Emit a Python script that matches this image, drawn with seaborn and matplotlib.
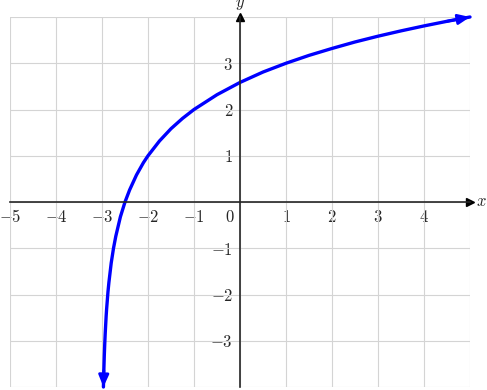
import numpy as np
import pandas as pd
import matplotlib
matplotlib.use("Agg")
import matplotlib.pyplot as plt
import seaborn as sns

# points (left end at the asymptote, right end at the arrow tip)
curve_x = [-2.969, -2.96, -2.95, -2.94, -2.93, -2.91, -2.9, -2.87, -2.85, -2.8, -2.75,
           -2.7, -2.6, -2.5, -2.4, -2.25, -2.1, -2.0, -1.75, -1.5, -1.25, -1.0,
           -0.5, 0.0, 0.5, 1.0, 1.5, 2.0, 2.5, 3.0, 3.5, 4.0, 4.5, 5.0]
curve_y = [-4.0, -3.64, -3.32, -3.06, -2.84, -2.47, -2.32, -1.94, -1.74, -1.32, -1.0,
           -0.74, -0.32, 0.0, 0.26, 0.585, 0.85, 1.0, 1.32, 1.585, 1.807, 2.0,
           2.32, 2.585, 2.81, 3.0, 3.17, 3.32, 3.46, 3.585, 3.70, 3.807, 3.907, 4.0]

x_ticks = [-5, -4, -3, -2, -1, 1, 2, 3, 4]
y_ticks = [-3, -2, -1, 1, 2, 3]
x_range = (-5, 5)
y_range = (-4, 4)

sns.set_style("white")
plt.rcParams["mathtext.fontset"] = "cm"
plt.rcParams["font.family"] = ["DejaVu Serif"]

fig = plt.figure(figsize=(4.87, 3.90), dpi=100)
ax = fig.add_axes([10 / 487, 3 / 390, 460 / 487, 370 / 390])
ax.set_xlim(*x_range)
ax.set_ylim(*y_range)

# grid on every integer (minor ticks, kept even where they sit on a major tick)
ax.xaxis.remove_overlapping_locs = False
ax.yaxis.remove_overlapping_locs = False
ax.set_xticks(range(x_range[0], x_range[1] + 1), minor=True)
ax.set_yticks(range(y_range[0], y_range[1] + 1), minor=True)
ax.grid(which="minor", color="#d4d4d4", lw=0.8)
ax.grid(which="major", visible=False)
ax.tick_params(which="minor", length=0)
ax.set_axisbelow(True)

# axes through the origin
for s in ["top", "right"]:
    ax.spines[s].set_visible(False)
ax.spines["left"].set_position("zero")
ax.spines["bottom"].set_position("zero")
ax.spines["left"].set_linewidth(1.2)
ax.spines["bottom"].set_linewidth(1.2)
ax.plot(1, 0, marker=">", color="k", ms=6, transform=ax.get_yaxis_transform(), clip_on=False)
ax.plot(0, 1, marker="^", color="k", ms=6, transform=ax.get_xaxis_transform(), clip_on=False)

ax.set_xticks(x_ticks)
ax.set_yticks(y_ticks)
ax.set_xticklabels([f"${v}$" for v in x_ticks])
ax.set_yticklabels([f"${v}$" for v in y_ticks])
ax.tick_params(which="major", direction="inout", length=4, width=0.8, labelsize=12, pad=3)
ax.text(-0.12, -0.15, "$0$", ha="right", va="top", fontsize=12)
ax.text(5.12, 0, "$x$", ha="left", va="center", fontsize=12, clip_on=False)
ax.text(0, 4.1, "$y$", ha="center", va="bottom", fontsize=12, clip_on=False)

df = pd.DataFrame({"x": curve_x, "y": curve_y})
sns.lineplot(data=df, x="x", y="y", sort=False, estimator=None, color="#0000ff",
             lw=2.4, ax=ax, clip_on=False)
ax.set_xlabel("")
ax.set_ylabel("")

# arrow heads at both ends of the curve
for i0, i1 in [(1, 0), (-2, -1)]:
    ax.annotate("", xy=(curve_x[i1], curve_y[i1]), xytext=(curve_x[i0], curve_y[i0]),
                arrowprops=dict(arrowstyle="-|>,head_length=0.7,head_width=0.3",
                                color="#0000ff", lw=2, shrinkA=0, shrinkB=0),
                annotation_clip=False)

fig.savefig("out.png", dpi=100)
